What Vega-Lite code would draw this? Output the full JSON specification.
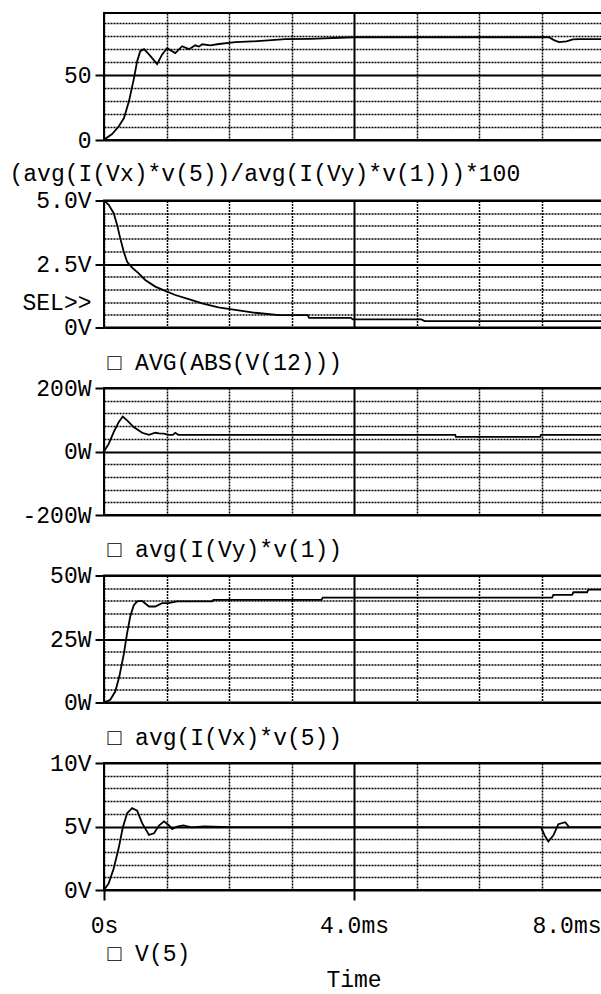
{
  "$schema": "https://vega.github.io/schema/vega-lite/v6.json",
  "background": "white",
  "padding": {"left": 8, "top": 11, "right": 0, "bottom": 0},
  "spacing": 60.5,
  "bounds": "flush",
  "config": {
    "font": "Liberation Mono",
    "view": {"stroke": "black", "strokeWidth": 2},
    "axis": {
      "labelFont": "Liberation Mono", "labelFontSize": 23, "labelColor": "black",
      "titleFont": "Liberation Mono", "titleFontSize": 23, "titleFontWeight": "normal", "titleColor": "black",
      "gridColor": "black", "gridOpacity": 1, "tickColor": "black", "domain": false, "labelOverlap": false
    },
    "title": {"font": "Liberation Mono", "fontSize": 23, "fontWeight": "normal", "color": "black"}
  },
  "datasets": {
    "p1": [
      {"t": 0, "v": 0}, {"t": 0.016, "v": 0.8}, {"t": 0.13, "v": 4.6}, {"t": 0.24, "v": 10.8}, {"t": 0.32, "v": 16.9},
      {"t": 0.4, "v": 30}, {"t": 0.48, "v": 47.7}, {"t": 0.53, "v": 60.8}, {"t": 0.58, "v": 68.5}, {"t": 0.64, "v": 70},
      {"t": 0.72, "v": 66}, {"t": 0.85, "v": 58.5}, {"t": 0.93, "v": 66}, {"t": 1.01, "v": 70.8}, {"t": 1.14, "v": 67},
      {"t": 1.25, "v": 72.3}, {"t": 1.36, "v": 70}, {"t": 1.46, "v": 73}, {"t": 1.52, "v": 72}, {"t": 1.57, "v": 73.8},
      {"t": 1.7, "v": 73}, {"t": 1.84, "v": 74}, {"t": 2.1, "v": 75.4}, {"t": 2.37, "v": 76}, {"t": 2.9, "v": 77.7},
      {"t": 3.3, "v": 78}, {"t": 4.0, "v": 79.2}, {"t": 7.12, "v": 79.2}, {"t": 7.2, "v": 77}, {"t": 7.28, "v": 75.4},
      {"t": 7.4, "v": 76}, {"t": 7.5, "v": 77.5}, {"t": 7.6, "v": 77.7}, {"t": 8, "v": 77.7}
    ],
    "p2": [
      {"t": 0, "v": 5.0}, {"t": 0.075, "v": 4.83}, {"t": 0.155, "v": 4.5}, {"t": 0.21, "v": 4.04}, {"t": 0.26, "v": 3.51},
      {"t": 0.315, "v": 2.99}, {"t": 0.37, "v": 2.59}, {"t": 0.45, "v": 2.36}, {"t": 0.555, "v": 2.13}, {"t": 0.66, "v": 1.87},
      {"t": 0.82, "v": 1.61}, {"t": 0.98, "v": 1.44}, {"t": 1.14, "v": 1.28}, {"t": 1.355, "v": 1.12}, {"t": 1.57, "v": 0.95},
      {"t": 1.83, "v": 0.79}, {"t": 2.1, "v": 0.69}, {"t": 2.42, "v": 0.58}, {"t": 2.8, "v": 0.49}, {"t": 3.26, "v": 0.49},
      {"t": 3.28, "v": 0.38}, {"t": 3.95, "v": 0.38}, {"t": 3.98, "v": 0.32}, {"t": 5.08, "v": 0.32}, {"t": 5.13, "v": 0.25},
      {"t": 8, "v": 0.25}
    ],
    "p3": [
      {"t": 0, "v": 0}, {"t": 0.075, "v": 24}, {"t": 0.155, "v": 61}, {"t": 0.235, "v": 92.5}, {"t": 0.3, "v": 110},
      {"t": 0.37, "v": 98}, {"t": 0.475, "v": 77}, {"t": 0.61, "v": 59}, {"t": 0.72, "v": 52.5}, {"t": 0.82, "v": 59},
      {"t": 0.88, "v": 57}, {"t": 0.955, "v": 56}, {"t": 1.03, "v": 52.5}, {"t": 1.1, "v": 52.5}, {"t": 1.14, "v": 59},
      {"t": 1.19, "v": 52.5}, {"t": 5.62, "v": 52.5}, {"t": 5.63, "v": 46}, {"t": 6.98, "v": 46}, {"t": 6.99, "v": 52.5},
      {"t": 8, "v": 52.5}
    ],
    "p4": [
      {"t": 0, "v": 0}, {"t": 0.1, "v": 1.05}, {"t": 0.18, "v": 4.3}, {"t": 0.245, "v": 10.2}, {"t": 0.315, "v": 18.8},
      {"t": 0.37, "v": 27.3}, {"t": 0.42, "v": 33.9}, {"t": 0.475, "v": 38.2}, {"t": 0.53, "v": 39.8}, {"t": 0.61, "v": 40.0},
      {"t": 0.66, "v": 39}, {"t": 0.72, "v": 37.8}, {"t": 0.82, "v": 37.8}, {"t": 0.93, "v": 39.1}, {"t": 1.03, "v": 39.1},
      {"t": 1.17, "v": 39.8}, {"t": 1.73, "v": 39.8}, {"t": 1.75, "v": 40.4}, {"t": 3.48, "v": 40.4}, {"t": 3.5, "v": 41.3},
      {"t": 7.17, "v": 41.3}, {"t": 7.19, "v": 42.4}, {"t": 7.49, "v": 42.4}, {"t": 7.51, "v": 43.4}, {"t": 7.73, "v": 43.4},
      {"t": 7.75, "v": 44.4}, {"t": 8, "v": 44.4}
    ],
    "p5": [
      {"t": 0, "v": 0}, {"t": 0.075, "v": 0.52}, {"t": 0.155, "v": 1.7}, {"t": 0.235, "v": 3.3}, {"t": 0.3, "v": 4.9},
      {"t": 0.37, "v": 6.05}, {"t": 0.45, "v": 6.45}, {"t": 0.53, "v": 6.24}, {"t": 0.61, "v": 5.26}, {"t": 0.72, "v": 4.34},
      {"t": 0.8, "v": 4.47}, {"t": 0.88, "v": 5.08}, {"t": 0.96, "v": 5.4}, {"t": 1.04, "v": 5.08}, {"t": 1.09, "v": 4.79},
      {"t": 1.17, "v": 5.0}, {"t": 1.27, "v": 5.08}, {"t": 1.4, "v": 4.93}, {"t": 1.6, "v": 5.0}, {"t": 2, "v": 4.95},
      {"t": 6.99, "v": 4.95}, {"t": 7.05, "v": 4.3}, {"t": 7.11, "v": 3.82}, {"t": 7.19, "v": 4.3}, {"t": 7.27, "v": 5.18},
      {"t": 7.38, "v": 5.34}, {"t": 7.44, "v": 4.95}, {"t": 8, "v": 4.95}
    ]
  },
  "vconcat": [
    {
      "width": 500, "height": 127,
      "data": {"name": "p1"},
      "mark": {"type": "line", "color": "black", "strokeWidth": 1.8},
      "encoding": {
        "x": {"field": "t", "type": "quantitative", "scale": {"domain": [0, 8], "nice": false, "zero": false},
          "axis": {"values": [0, 1, 2, 3, 4, 5, 6, 7, 8], "labels": false, "ticks": false, "grid": true,
            "gridDash": {"condition": {"test": "datum.value == 4", "value": []}, "value": [2, 1]},
            "gridWidth": {"condition": {"test": "datum.value == 4", "value": 2}, "value": 1.5},
            "title": "(avg(I(Vx)*v(5))/avg(I(Vy)*v(1)))*100", "titleX": -95, "titleY": 40, "titleAlign": "left", "titleBaseline": "alphabetic"}},
        "y": {"field": "v", "type": "quantitative", "scale": {"domain": [0, 97.9], "nice": false, "zero": false},
          "axis": {"values": [0, 10, 20, 30, 40, 50, 60, 70, 80, 90], "title": null, "grid": true,
            "labelExpr": "datum.value == 0 ? '0' : datum.value == 50 ? '50' : ''",
            "tickSize": 9, "tickWidth": 2, "labelPadding": 4,
            "tickOpacity": {"condition": {"test": "datum.value == 0 || datum.value == 50", "value": 1}, "value": 0},
            "gridDash": {"condition": {"test": "datum.value == 0 || datum.value == 50", "value": []}, "value": [2, 1]},
            "gridWidth": {"condition": {"test": "datum.value == 0 || datum.value == 50", "value": 2}, "value": 1.5}}}
      }
    },
    {
      "width": 500, "height": 127,
      "data": {"name": "p2"},
      "mark": {"type": "line", "color": "black", "strokeWidth": 1.8},
      "encoding": {
        "x": {"field": "t", "type": "quantitative", "scale": {"domain": [0, 8], "nice": false, "zero": false},
          "axis": {"values": [0, 1, 2, 3, 4, 5, 6, 7, 8], "labels": false, "ticks": false, "grid": true,
            "gridDash": {"condition": {"test": "datum.value == 4", "value": []}, "value": [2, 1]},
            "gridWidth": {"condition": {"test": "datum.value == 4", "value": 2}, "value": 1.5},
            "title": "□ AVG(ABS(V(12)))", "titleX": 3, "titleY": 42, "titleAlign": "left", "titleBaseline": "alphabetic"}},
        "y": {"field": "v", "type": "quantitative", "scale": {"domain": [0, 5], "nice": false, "zero": false},
          "axis": {"values": [0, 0.5, 1, 1.5, 2, 2.5, 3, 3.5, 4, 4.5, 5], "title": null, "grid": true,
            "labelExpr": "datum.value == 0 ? '0V' : datum.value == 2.5 ? '2.5V' : datum.value == 5 ? '5.0V' : datum.value == 1 ? 'SEL>>' : ''",
            "tickSize": 9, "tickWidth": 2, "labelPadding": 4,
            "tickOpacity": {"condition": {"test": "datum.value == 0 || datum.value == 2.5 || datum.value == 5", "value": 1}, "value": 0},
            "gridDash": {"condition": {"test": "datum.value == 0 || datum.value == 2.5 || datum.value == 5", "value": []}, "value": [2, 1]},
            "gridWidth": {"condition": {"test": "datum.value == 0 || datum.value == 2.5 || datum.value == 5", "value": 2}, "value": 1.5}}}
      }
    },
    {
      "width": 500, "height": 127,
      "data": {"name": "p3"},
      "mark": {"type": "line", "color": "black", "strokeWidth": 1.8},
      "encoding": {
        "x": {"field": "t", "type": "quantitative", "scale": {"domain": [0, 8], "nice": false, "zero": false},
          "axis": {"values": [0, 1, 2, 3, 4, 5, 6, 7, 8], "labels": false, "ticks": false, "grid": true,
            "gridDash": {"condition": {"test": "datum.value == 4", "value": []}, "value": [2, 1]},
            "gridWidth": {"condition": {"test": "datum.value == 4", "value": 2}, "value": 1.5},
            "title": "□ avg(I(Vy)*v(1))", "titleX": 3, "titleY": 41, "titleAlign": "left", "titleBaseline": "alphabetic"}},
        "y": {"field": "v", "type": "quantitative", "scale": {"domain": [-200, 200], "nice": false, "zero": false},
          "axis": {"values": [-200, -160, -120, -80, -40, 0, 40, 80, 120, 160, 200], "title": null, "grid": true,
            "labelExpr": "datum.value == 0 ? '0W' : datum.value == 200 ? '200W' : datum.value == -200 ? '-200W' : ''",
            "tickSize": 9, "tickWidth": 2, "labelPadding": 4,
            "tickOpacity": {"condition": {"test": "datum.value == 0 || datum.value == 200 || datum.value == -200", "value": 1}, "value": 0},
            "gridDash": {"condition": {"test": "datum.value == 0 || datum.value == 200 || datum.value == -200", "value": []}, "value": [2, 1]},
            "gridWidth": {"condition": {"test": "datum.value == 0 || datum.value == 200 || datum.value == -200", "value": 2}, "value": 1.5}}}
      }
    },
    {
      "width": 500, "height": 127,
      "data": {"name": "p4"},
      "mark": {"type": "line", "color": "black", "strokeWidth": 1.8},
      "encoding": {
        "x": {"field": "t", "type": "quantitative", "scale": {"domain": [0, 8], "nice": false, "zero": false},
          "axis": {"values": [0, 1, 2, 3, 4, 5, 6, 7, 8], "labels": false, "ticks": false, "grid": true,
            "gridDash": {"condition": {"test": "datum.value == 4", "value": []}, "value": [2, 1]},
            "gridWidth": {"condition": {"test": "datum.value == 4", "value": 2}, "value": 1.5},
            "title": "□ avg(I(Vx)*v(5))", "titleX": 3, "titleY": 42, "titleAlign": "left", "titleBaseline": "alphabetic"}},
        "y": {"field": "v", "type": "quantitative", "scale": {"domain": [0, 50], "nice": false, "zero": false},
          "axis": {"values": [0, 5, 10, 15, 20, 25, 30, 35, 40, 45, 50], "title": null, "grid": true,
            "labelExpr": "datum.value == 0 ? '0W' : datum.value == 25 ? '25W' : datum.value == 50 ? '50W' : ''",
            "tickSize": 9, "tickWidth": 2, "labelPadding": 4,
            "tickOpacity": {"condition": {"test": "datum.value == 0 || datum.value == 25 || datum.value == 50", "value": 1}, "value": 0},
            "gridDash": {"condition": {"test": "datum.value == 0 || datum.value == 25 || datum.value == 50", "value": []}, "value": [2, 1]},
            "gridWidth": {"condition": {"test": "datum.value == 0 || datum.value == 25 || datum.value == 50", "value": 2}, "value": 1.5}}}
      }
    },
    {
      "width": 500, "height": 127,
      "title": {"text": "Time", "orient": "bottom", "anchor": "middle", "frame": "group", "offset": 4},
      "data": {"name": "p5"},
      "mark": {"type": "line", "color": "black", "strokeWidth": 1.8},
      "encoding": {
        "x": {"field": "t", "type": "quantitative", "scale": {"domain": [0, 8], "nice": false, "zero": false},
          "axis": {"values": [0, 1, 2, 3, 4, 5, 6, 7, 8], "grid": true,
            "labelExpr": "datum.value == 0 ? '0s' : datum.value == 4 ? '4.0ms' : datum.value == 8 ? '8.0ms' : ''",
            "labelAlign": {"condition": {"test": "datum.value == 8", "value": "right"}, "value": "center"},
            "labelOffset": {"condition": {"test": "datum.value == 8", "value": -3}, "value": 0},
            "labelBaseline": "alphabetic", "labelPadding": 32,
            "tickSize": 10, "tickWidth": 2,
            "tickOpacity": {"condition": {"test": "datum.value == 0 || datum.value == 4 || datum.value == 8", "value": 1}, "value": 0},
            "gridDash": {"condition": {"test": "datum.value == 4", "value": []}, "value": [2, 1]},
            "gridWidth": {"condition": {"test": "datum.value == 4", "value": 2}, "value": 1.5},
            "title": "□ V(5)", "titleX": 3, "titleY": 70, "titleAlign": "left", "titleBaseline": "alphabetic"}},
        "y": {"field": "v", "type": "quantitative", "scale": {"domain": [0, 10], "nice": false, "zero": false},
          "axis": {"values": [0, 1, 2, 3, 4, 5, 6, 7, 8, 9, 10], "title": null, "grid": true,
            "labelExpr": "datum.value == 0 ? '0V' : datum.value == 5 ? '5V' : datum.value == 10 ? '10V' : ''",
            "tickSize": 9, "tickWidth": 2, "labelPadding": 4,
            "tickOpacity": {"condition": {"test": "datum.value == 0 || datum.value == 5 || datum.value == 10", "value": 1}, "value": 0},
            "gridDash": {"condition": {"test": "datum.value == 0 || datum.value == 5 || datum.value == 10", "value": []}, "value": [2, 1]},
            "gridWidth": {"condition": {"test": "datum.value == 0 || datum.value == 5 || datum.value == 10", "value": 2}, "value": 1.5}}}
      }
    }
  ]
}
